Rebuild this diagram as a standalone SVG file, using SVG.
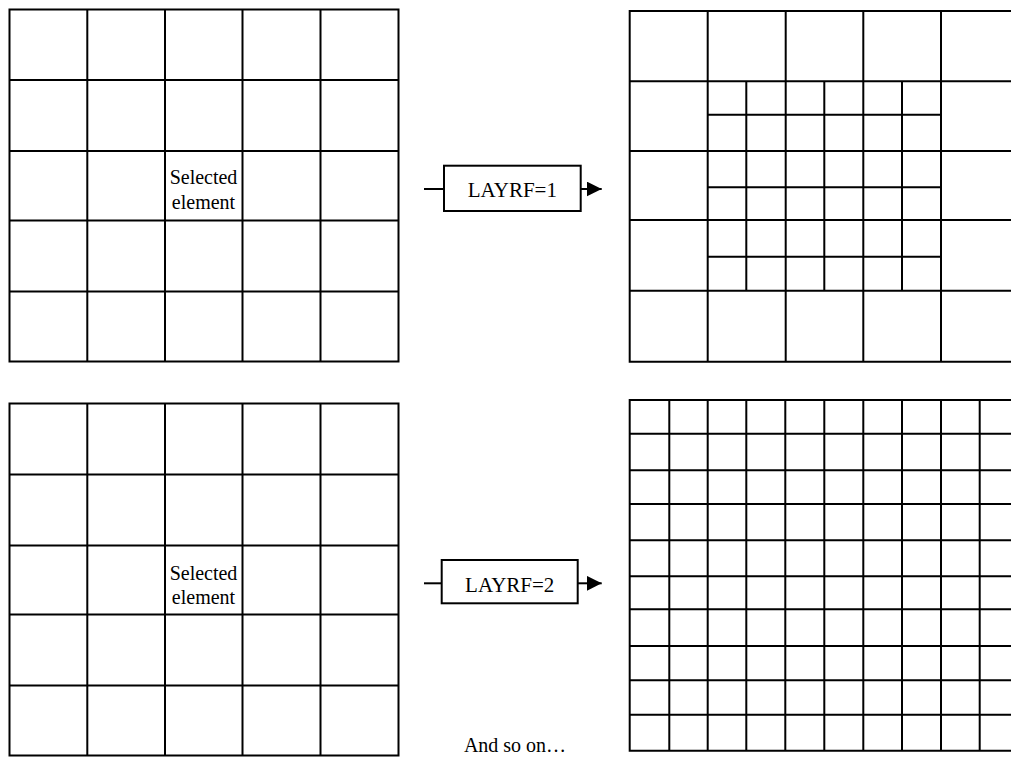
<svg xmlns="http://www.w3.org/2000/svg" width="1011" height="757" viewBox="0 0 1011 757">
<style>
.g{fill:none;stroke:#000;stroke-width:2}
.box{fill:#fff;stroke:#000;stroke-width:2}
.c{fill:none;stroke:#000;stroke-width:2}
.t{font-family:"Liberation Serif","Times New Roman",serif;font-size:20px;fill:#000;text-anchor:middle}
.tl{font-family:"Liberation Serif","Times New Roman",serif;font-size:21px;fill:#000;text-anchor:middle}
</style>
<defs>
<marker id="arr" viewBox="0 0 15 15" markerWidth="15" markerHeight="15" markerUnits="userSpaceOnUse" refX="15" refY="7.5" orient="auto">
<path d="M0,0 L15,7.5 L0,15 z" fill="#000"/>
</marker>
</defs>
<rect width="1011" height="757" fill="#fff"/>

<g id="grid-top-left">
<path class="g" d="M9.5,9.5H398.5V361.5H9.5Z M87.3,9.5V361.5 M165,9.5V361.5 M242.5,9.5V361.5 M320.5,9.5V361.5 M9.5,80H398.5 M9.5,151H398.5 M9.5,220.5H398.5 M9.5,291.5H398.5"/>
<text class="t" x="203.5" y="184.3">Selected</text>
<text class="t" x="203.5" y="209">element</text>
</g>

<g id="grid-bottom-left">
<path class="g" d="M9.5,403.5H398.5V755.5H9.5Z M87.3,403.5V755.5 M165,403.5V755.5 M242.5,403.5V755.5 M320.5,403.5V755.5 M9.5,474.5H398.5 M9.5,545.5H398.5 M9.5,614.5H398.5 M9.5,685.5H398.5"/>
<text class="t" x="203.5" y="580">Selected</text>
<text class="t" x="203.5" y="603.5">element</text>
</g>

<g id="grid-top-right">
<path class="g" d="M1012,11H629.7V361.7H1012 M707.7,11V361.7 M785.7,11V361.7 M863.3,11V361.7 M941,11V361.7 M629.7,81.3H1012 M629.7,151H1012 M629.7,220H1012 M629.7,290.7H1012"/>
<path class="g" d="M746.3,81.3V290.7 M824.3,81.3V290.7 M902,81.3V290.7 M707.7,114.7H941 M707.7,187.3H941 M707.7,256.7H941"/>
</g>

<g id="grid-bottom-right">
<path class="g" d="M1012,400H629.7V750.7H1012 M669.3,400V750.7 M707.7,400V750.7 M746.3,400V750.7 M785.3,400V750.7 M824.3,400V750.7 M863.3,400V750.7 M902,400V750.7 M941,400V750.7 M979.7,400V750.7 M629.7,433.7H1012 M629.7,470.3H1012 M629.7,504H1012 M629.7,540.3H1012 M629.7,576.3H1012 M629.7,609.3H1012 M629.7,646H1012 M629.7,680.3H1012 M629.7,714.7H1012"/>
</g>

<g id="connectors">
<line class="c" x1="424" y1="189" x2="444" y2="189"/>
<line class="c" x1="580.7" y1="189" x2="601.7" y2="189" marker-end="url(#arr)"/>
<line class="c" x1="424" y1="583.3" x2="441.7" y2="583.3"/>
<line class="c" x1="577.7" y1="583.3" x2="601.7" y2="583.3" marker-end="url(#arr)"/>
</g>

<g id="box-layrf1">
<rect class="box" x="444" y="165.7" width="136.7" height="45.3"/>
<text class="tl" x="512.3" y="196.7">LAYRF=1</text>
</g>

<g id="box-layrf2">
<rect class="box" x="441.7" y="560" width="136" height="43.3"/>
<text class="tl" x="509.7" y="591.7">LAYRF=2</text>
</g>

<g id="note">
<text class="t" x="515" y="752">And so on…</text>
</g>
</svg>
